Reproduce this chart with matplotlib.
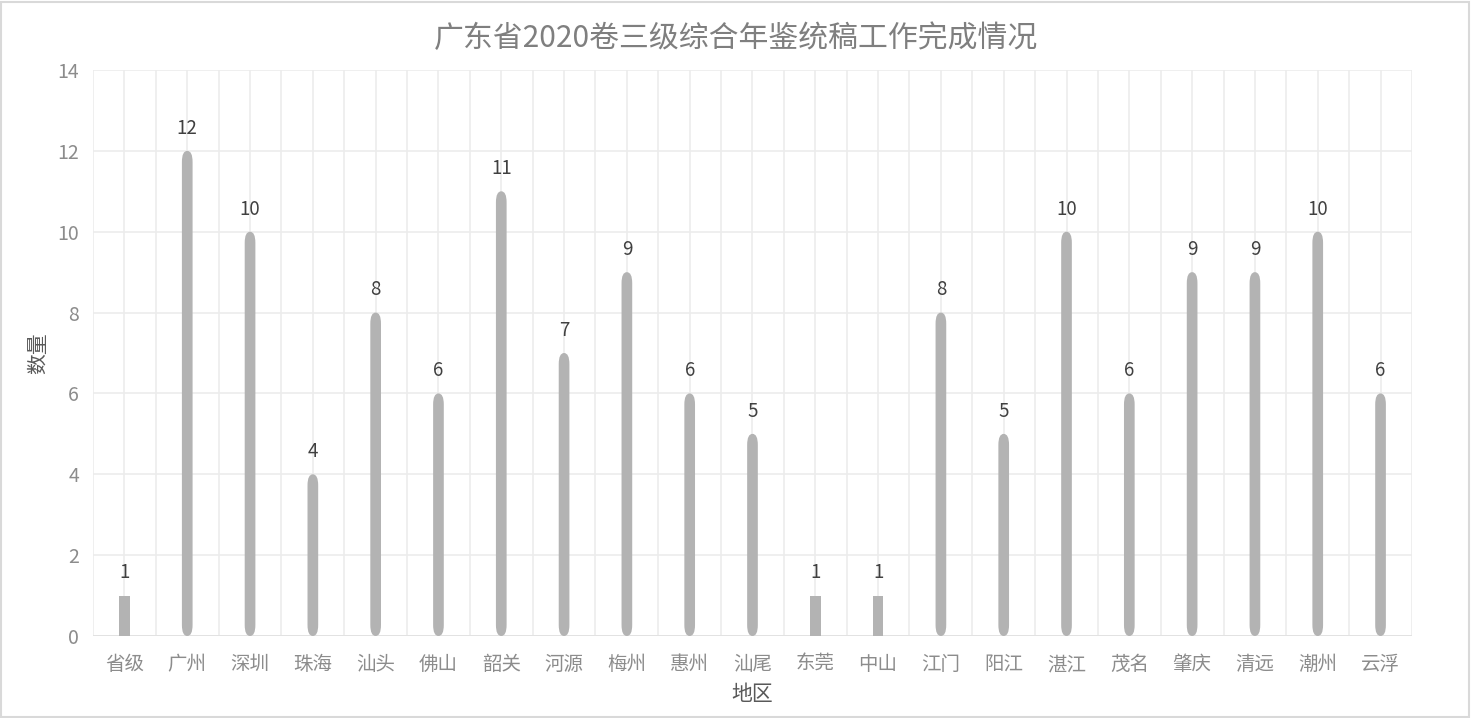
import matplotlib.pyplot as plt
from matplotlib.patches import FancyBboxPatch

plt.rcParams['font.family'] = ['Noto Sans CJK SC', 'DejaVu Sans']

regions = ['省级', '广州', '深圳', '珠海', '汕头', '佛山', '韶关', '河源', '梅州', '惠州',
           '汕尾', '东莞', '中山', '江门', '阳江', '湛江', '茂名', '肇庆', '清远', '潮州', '云浮']
counts = [1, 12, 10, 4, 8, 6, 11, 7, 9, 6, 5, 1, 1, 8, 5, 10, 6, 9, 9, 10, 6]

fig = plt.figure(figsize=(14.72, 7.18), dpi=100)
ax = fig.add_axes([0.0632, 0.1142, 0.896, 0.7883])

bar_w = 0.17
bars = ax.bar(range(len(regions)), counts, width=bar_w, color='#b3b3b3', zorder=3)

# rounded, tapered ends like the original cylinder bars
for b, v in zip(bars, counts):
    if v > 1:
        x0, y0 = b.get_x(), b.get_y()
        w, h = b.get_width(), b.get_height()
        b.set_visible(False)
        p = FancyBboxPatch((x0, y0), w, h,
                           boxstyle='round,pad=0,rounding_size=%f' % (w / 2),
                           mutation_aspect=3.2, facecolor='#b3b3b3',
                           edgecolor='none', zorder=3)
        ax.add_patch(p)

for i, v in enumerate(counts):
    ax.text(i, v + 0.3, str(v), ha='center', va='bottom', fontsize=13.5,
            color='#404040', zorder=4)

ax.set_xlim(-0.5, len(regions) - 0.5)
ax.set_ylim(0, 14)
ax.set_yticks(range(0, 15, 2))
ax.set_xticks(range(len(regions)))
ax.set_xticklabels(regions)
ax.set_xticks([i + 0.5 for i in range(-1, len(regions))], minor=True)
ax.tick_params(axis='both', which='both', length=0, labelsize=14, colors='#8c8c8c')
ax.tick_params(axis='x', pad=13)
ax.tick_params(axis='y', pad=10)

ax.grid(True, which='major', color='#ececec', linewidth=1.2, zorder=0)
ax.grid(True, which='minor', axis='x', color='#ececec', linewidth=1.2, zorder=0)
for s in ax.spines.values():
    s.set_visible(False)
ax.axhline(0, color='#e0e0e0', linewidth=1.2, zorder=2)

ax.set_xlabel('地区', fontsize=15, color='#595959', labelpad=6)
ax.set_ylabel('数量', fontsize=15, color='#595959', labelpad=6)
fig.suptitle('广东省2020卷三级综合年鉴统稿工作完成情况', fontsize=21.5, color='#7f7f7f', y=0.968)

# light frame around the chart
fig.patches.append(plt.Rectangle((0.001, 0.002), 0.997, 0.995, transform=fig.transFigure,
                                 fill=False, edgecolor='#d9d9d9', linewidth=1.5))

fig.savefig('out.png', dpi=100)
